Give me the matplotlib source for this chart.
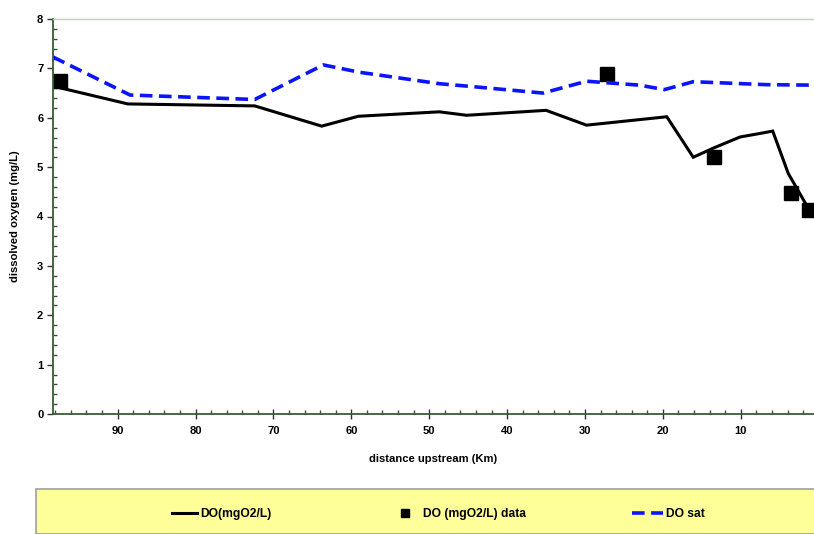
import matplotlib
matplotlib.use('Agg')
import matplotlib.pyplot as plt
from matplotlib.patches import Rectangle
from matplotlib.ticker import MultipleLocator

plt.rcParams['font.family'] = ['Liberation Sans', 'DejaVu Sans']

# model DO along the river (km upstream, mg/L)
do_km = [98.3, 88.7, 72.4, 63.8, 59.1, 48.7, 45.2, 35.0, 29.8, 19.5, 16.1, 13.6, 10.1, 7.6, 5.9, 3.9, 1.2, 0.3]
do_val = [6.64, 6.28, 6.24, 5.83, 6.03, 6.12, 6.05, 6.15, 5.85, 6.02, 5.20, 5.38, 5.61, 5.68, 5.73, 4.87, 4.13, 3.95]

# measured DO
data_km = [97.4, 27.2, 13.5, 3.6, 1.2]
data_val = [6.75, 6.88, 5.21, 4.47, 4.14]

# saturation DO
sat_km = [98.3, 88.4, 72.4, 63.6, 58.9, 48.7, 44.4, 35.4, 29.8, 23.0, 19.8, 16.1, 6.7, 0.3]
sat_val = [7.23, 6.46, 6.37, 7.07, 6.92, 6.69, 6.63, 6.50, 6.74, 6.66, 6.57, 6.73, 6.67, 6.66]

fig = plt.figure(figsize=(8.14, 5.34), dpi=100)
ax = fig.add_axes([53 / 814, 120 / 534, 761 / 814, 395 / 534])

l1, = ax.plot(do_km, do_val, color='black', lw=2.2, solid_joinstyle='miter', label='DO(mgO2/L)')
l2, = ax.plot(data_km, data_val, 's', color='black', ms=9.5, ls='none', label='DO (mgO2/L) data')
l3, = ax.plot(sat_km, sat_val, color='#0a14ff', lw=2.6, dashes=(3.5, 1.8), label='DO sat')

ax.set_xlim(98.3, 0.6)
ax.set_ylim(0, 8)
ax.xaxis.set_major_locator(MultipleLocator(10))
ax.xaxis.set_minor_locator(MultipleLocator(2))
ax.yaxis.set_major_locator(MultipleLocator(1))
ax.yaxis.set_minor_locator(MultipleLocator(0.2))
ax.set_xticks([90, 80, 70, 60, 50, 40, 30, 20, 10])

ax.tick_params(axis='x', which='major', direction='inout', length=7, width=1, color='#333333', pad=5)
ax.tick_params(axis='y', which='major', direction='out', length=4, width=1, color='#333333', pad=3)
ax.tick_params(which='minor', direction='in', length=3, width=1, color='#335533')
ax.tick_params(labelsize=8)
for lab in ax.get_xticklabels() + ax.get_yticklabels():
    lab.set_fontweight('bold')

for s in ['left', 'bottom']:
    ax.spines[s].set_color('#3a5a3a')
    ax.spines[s].set_linewidth(1.3)
ax.spines['top'].set_color('#a8dca0')
ax.spines['top'].set_linewidth(1)
ax.spines['right'].set_visible(False)

ax.set_xlabel('distance upstream (Km)', fontsize=8.1, fontweight='bold', labelpad=13)
ax.set_ylabel('dissolved oxygen (mg/L)', fontsize=8.1, fontweight='bold', labelpad=12)

# yellow legend panel at the bottom
fig.patches.append(Rectangle((36 / 814, 0), 1, 45 / 534, transform=fig.transFigure,
                             facecolor='#ffff99', edgecolor='#a0a0a0', lw=1.2))

# one small legend per entry, placed like the original
leg_x = [172 / 814, 392 / 814, 632 / 814]
for h, x in zip([l1, l2, l3], leg_x):
    hl = 2.6 if h is l3 else 2.1
    leg = fig.legend(handles=[h], loc='center left', bbox_to_anchor=(x, 0.037),
                     frameon=False, fontsize=8.7, borderpad=0, borderaxespad=0,
                     handlelength=hl, handletextpad=0.25 if h is not l2 else 0.45,
                     markerscale=0.55)
    for t in leg.get_texts():
        t.set_fontweight('bold')

fig.savefig('out.png', dpi=100)
